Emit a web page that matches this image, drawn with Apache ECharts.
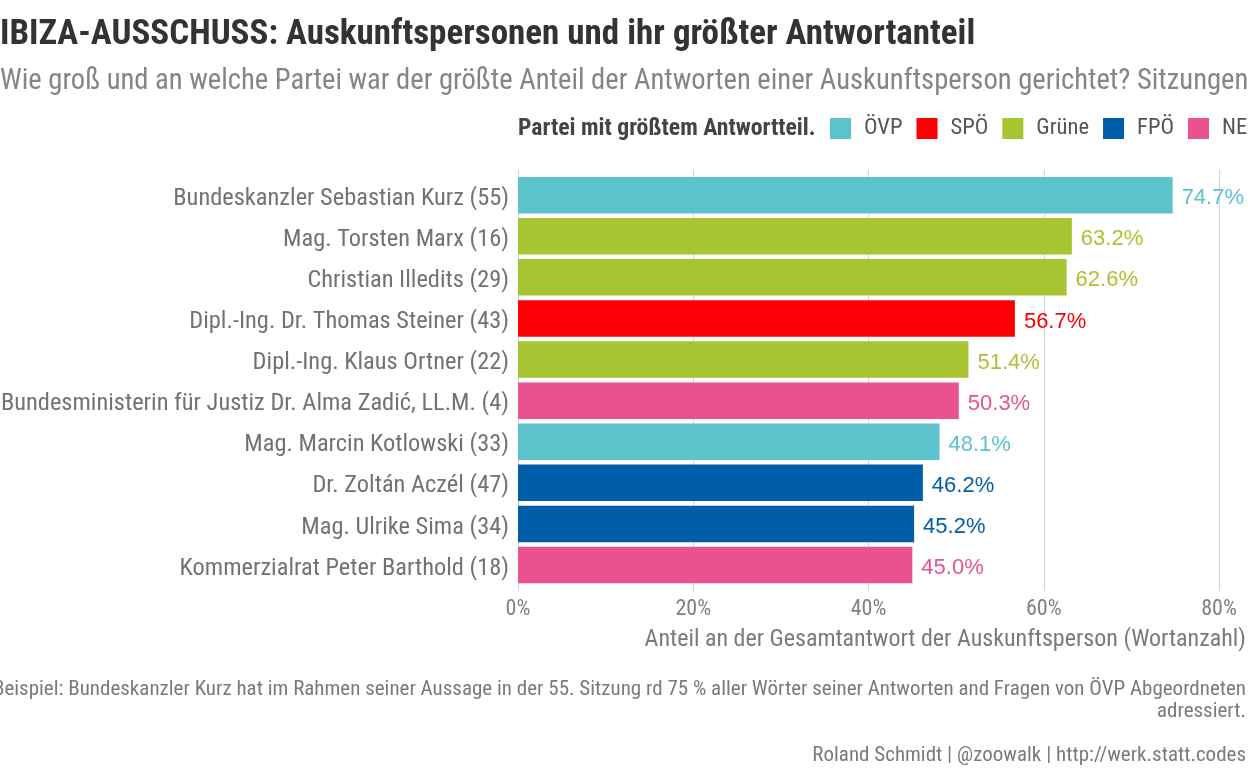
<!DOCTYPE html>
<html><head><meta charset="utf-8">
<script src="https://cdn.jsdelivr.net/npm/echarts@6/dist/echarts.min.js"></script>
<style>html,body{margin:0;padding:0;background:#fff}#c{width:1248px;height:768px}</style>
</head><body><div id="c"></div>
<script>
const categories = [
  'Bundeskanzler Sebastian Kurz (55)',
  'Mag. Torsten Marx (16)',
  'Christian Illedits (29)',
  'Dipl.-Ing. Dr. Thomas Steiner (43)',
  'Dipl.-Ing. Klaus Ortner (22)',
  'Bundesministerin für Justiz Dr. Alma Zadić, LL.M. (4)',
  'Mag. Marcin Kotlowski (33)',
  'Dr. Zoltán Aczél (47)',
  'Mag. Ulrike Sima (34)',
  'Kommerzialrat Peter Barthold (18)'
];
const shares = [74.7, 63.2, 62.6, 56.7, 51.4, 50.3, 48.1, 46.2, 45.2, 45.0];
const topParty = ['ÖVP','Grüne','Grüne','SPÖ','Grüne','NEOS','ÖVP','FPÖ','FPÖ','NEOS'];
const partyNames = ['ÖVP','SPÖ','Grüne','FPÖ','NEOS'];
const partyColors = ['#5CC2CC','#FC0006','#A6C531','#005DA8','#E9528E'];
const xTicks = [0, 20, 40, 60, 80];

const COND = '"Roboto Condensed","Liberation Sans Narrow","DejaVu Sans Condensed",Roboto,sans-serif';
const XMAX = 83.3;
const chart = echarts.init(document.getElementById('c'), null, {renderer:'canvas'});

const series = partyNames.map((p, k) => ({
  name: p,
  type: 'bar',
  stack: 'all',
  xAxisIndex: 1, yAxisIndex: 1,
  barWidth: 36.5,
  itemStyle: { color: partyColors[k] },
  label: {
    show: true, position: 'right', distance: 9, offset: [0, 3],
    color: partyColors[k], fontFamily: '"Liberation Sans",Arial,sans-serif', fontSize: 22,
    formatter: d => d.value.toFixed(1) + '%'
  },
  data: shares.map((v, i) => topParty[i] === p ? v : '-')
}));

chart.setOption({
  animation: false,
  grid: [
    { left: 518, right: 0, top: 170, bottom: 177, containLabel: false, outerBoundsMode: 'none' },
    { left: 518, right: 0, top: 174.6, bottom: 182.4, containLabel: false, outerBoundsMode: 'none' }
  ],
  xAxis: [{
    gridIndex: 0, type: 'value', min: 0, max: XMAX, interval: 20,
    axisLine: { show: false }, axisTick: { show: false },
    splitLine: { show: true, lineStyle: { color: '#d4d4d4', width: 1 } },
    axisLabel: {
      margin: 7, color: '#808080', fontSize: 22, fontFamily: COND,
      formatter: v => xTicks.includes(v) ? v + '%' : ''
    }
  }, {
    gridIndex: 1, type: 'value', min: 0, max: XMAX, show: false
  }],
  yAxis: [{
    gridIndex: 0, type: 'value', show: false
  }, {
    gridIndex: 1, type: 'category', data: categories, inverse: true,
    axisLine: { show: false }, axisTick: { show: false },
    axisLabel: { margin: 9, verticalAlign: 'top', lineHeight: 7, color: '#727272', fontSize: 24.4, fontFamily: COND }
  }],
  legend: {
    left: 830, top: 117, padding: 0, width: 1000, itemWidth: 21, itemHeight: 21, itemGap: 14,
    icon: 'rect',
    textStyle: { color: '#555', fontSize: 22.6, fontFamily: COND, padding: [0, 0, 0, 8] },
    data: partyNames
  },
  graphic: [
    { type: 'text', x: 0, y: 35, style: { text: 'IBIZA-AUSSCHUSS: Auskunftspersonen und ihr größter Antwortanteil', fill: '#333', font: 'bold 35px ' + COND, verticalAlign: 'middle' } },
    { type: 'text', x: 0, y: 82, style: { text: 'Wie groß und an welche Partei war der größte Anteil der Antworten einer Auskunftsperson gerichtet? Sitzungen 1-60', fill: '#858585', font: '28.6px ' + COND, verticalAlign: 'middle' } },
    { type: 'text', x: 518, y: 129, style: { text: 'Partei mit größtem Antwortteil.', fill: '#444', font: 'bold 23.7px ' + COND, verticalAlign: 'middle' } },
    { type: 'text', x: 1246, y: 640, style: { text: 'Anteil an der Gesamtantwort der Auskunftsperson (Wortanzahl)', fill: '#7a7a7a', font: '24px ' + COND, align: 'right', verticalAlign: 'middle' } },
    { type: 'text', x: 1246, y: 690, style: { text: 'Beispiel: Bundeskanzler Kurz hat im Rahmen seiner Aussage in der 55. Sitzung rd 75 % aller Wörter seiner Antworten and Fragen von ÖVP Abgeordneten', fill: '#7a7a7a', font: '21px ' + COND, align: 'right', verticalAlign: 'middle' } },
    { type: 'text', x: 1246, y: 712, style: { text: 'adressiert.', fill: '#7a7a7a', font: '21px ' + COND, align: 'right', verticalAlign: 'middle' } },
    { type: 'text', x: 1246, y: 756, style: { text: 'Roland Schmidt | @zoowalk | http://werk.statt.codes', fill: '#7a7a7a', font: '21px ' + COND, align: 'right', verticalAlign: 'middle' } }
  ],
  series
});
</script></body></html>
